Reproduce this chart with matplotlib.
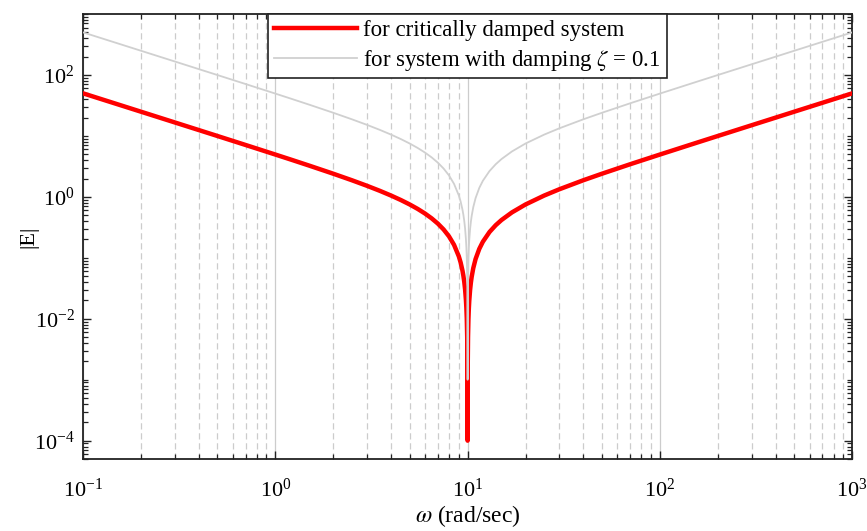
import matplotlib
matplotlib.use("Agg")
import matplotlib.pyplot as plt
from matplotlib.ticker import LogLocator, NullFormatter

# frequency samples (rad/sec)
omega = [0.1, 0.15, 0.2, 0.3, 0.4, 0.5, 0.7, 1.0, 1.2, 1.5, 2.0, 2.5, 3.0, 3.5, 4.0,
         4.5, 5.0, 5.5, 6.0, 6.5, 7.0, 7.5, 8.0, 8.5, 9.0, 9.2, 9.4, 9.5, 9.6, 9.7,
         9.8, 9.85, 9.9, 9.95, 9.98, 9.99, 9.995, 9.999, 10.001, 10.005, 10.01,
         10.02, 10.05, 10.1, 10.15, 10.2, 10.3, 10.4, 10.5, 10.7, 11.0, 11.5, 12.0,
         13.0, 14.0, 15.0, 17.0, 20.0, 25.0, 30.0, 40.0, 50.0, 70.0, 100.0, 150.0,
         200.0, 300.0, 500.0, 700.0, 1000.0]

# |E| for critically damped system
E_crit = [50.0, 33.33, 24.99, 16.65, 12.48, 9.975, 7.108, 4.95, 4.107, 3.258, 2.4,
          1.875, 1.517, 1.254, 1.05, 0.8861, 0.75, 0.6341, 0.5333, 0.4442, 0.3643,
          0.2917, 0.225, 0.1632, 0.1056, 0.08348, 0.06191, 0.0513, 0.04083, 0.03046,
          0.0202, 0.01511, 0.01005, 0.005013, 0.002002, 0.0010005, 0.0005001, 0.0001,
          0.0001, 0.0005001, 0.0009995, 0.001998, 0.004988, 0.00995, 0.01489, 0.0198,
          0.02956, 0.03923, 0.0488, 0.06771, 0.0955, 0.1402, 0.1833, 0.2654, 0.3429,
          0.4167, 0.5559, 0.75, 1.05, 1.333, 1.875, 2.4, 3.429, 4.95, 7.467, 9.975,
          14.98, 24.99, 34.99, 49.995]

# |E| for system with damping zeta = 0.1
E_damp = [500.0, 333.3, 249.9, 166.5, 124.8, 99.75, 71.08, 49.5, 41.07, 32.58, 24.0,
          18.75, 15.17, 12.54, 10.5, 8.861, 7.5, 6.341, 5.333, 4.442, 3.643, 2.917,
          2.25, 1.632, 1.056, 0.8348, 0.6191, 0.513, 0.4083, 0.3046, 0.202, 0.1511,
          0.1005, 0.05013, 0.02002, 0.010005, 0.005001, 0.001, 0.001, 0.005001,
          0.009995, 0.01998, 0.04988, 0.0995, 0.1489, 0.198, 0.2956, 0.3923, 0.488,
          0.6771, 0.955, 1.402, 1.833, 2.654, 3.429, 4.167, 5.559, 7.5, 10.5, 13.33,
          18.75, 24.0, 34.29, 49.5, 74.67, 99.75, 149.8, 249.9, 349.9, 499.95]

plt.rcParams['font.family'] = ['Liberation Serif', 'DejaVu Serif']
plt.rcParams['mathtext.fontset'] = 'stix'
plt.rcParams['axes.unicode_minus'] = False

fig = plt.figure(figsize=(8.67, 5.31), dpi=100)
ax = fig.add_axes([0.0957, 0.1356, 0.8873, 0.838])

ax.loglog(omega, E_crit, color='#ff0000', lw=3.2, label='for critically damped system', zorder=3)
ax.loglog(omega, E_damp, color='#d0d0d0', lw=1.3, label=r'for system with damping $\zeta$ = 0.1', zorder=4)

ax.set_xlim(0.1, 1000)
ax.set_ylim(5e-5, 1000)

ax.xaxis.set_major_locator(LogLocator(base=10, numticks=10))
ax.xaxis.set_minor_locator(LogLocator(base=10, subs=range(2, 10), numticks=50))
ax.set_yticks([1e-4, 1e-2, 1e0, 1e2])
ax.yaxis.set_minor_locator(LogLocator(base=10, subs=range(1, 10), numticks=50))
ax.xaxis.set_minor_formatter(NullFormatter())
ax.yaxis.set_minor_formatter(NullFormatter())

ax.tick_params(which='both', direction='in', top=True, right=True, labelsize=16, color='#222222')
ax.tick_params(which='major', length=6, width=1.0)
ax.tick_params(which='minor', length=3.5, width=0.9)
ax.tick_params(axis='x', pad=14)
ax.tick_params(axis='y', pad=6)

ax.grid(True, which='major', axis='x', color='#cccccc', lw=0.9, ls='-')
ax.grid(True, which='minor', axis='x', color='#cccccc', lw=0.9, ls=(0, (5, 3)))
ax.set_axisbelow(True)

for s in ax.spines.values():
    s.set_linewidth(1.3)
    s.set_color('#222222')

ax.set_xlabel(r'$\omega$ (rad/sec)', fontsize=17, labelpad=1)
ax.set_ylabel('|E|', fontsize=16, labelpad=-3)

leg = ax.legend(loc='upper center', bbox_to_anchor=(0.5, 1.0), fontsize=16.5,
                frameon=True, fancybox=False, edgecolor='#222222', framealpha=1,
                borderpad=0.25, labelspacing=0.3, handlelength=3.6, handletextpad=0.3,
                borderaxespad=0.0)
leg.get_frame().set_linewidth(1.2)

fig.savefig('out.png', dpi=100)
